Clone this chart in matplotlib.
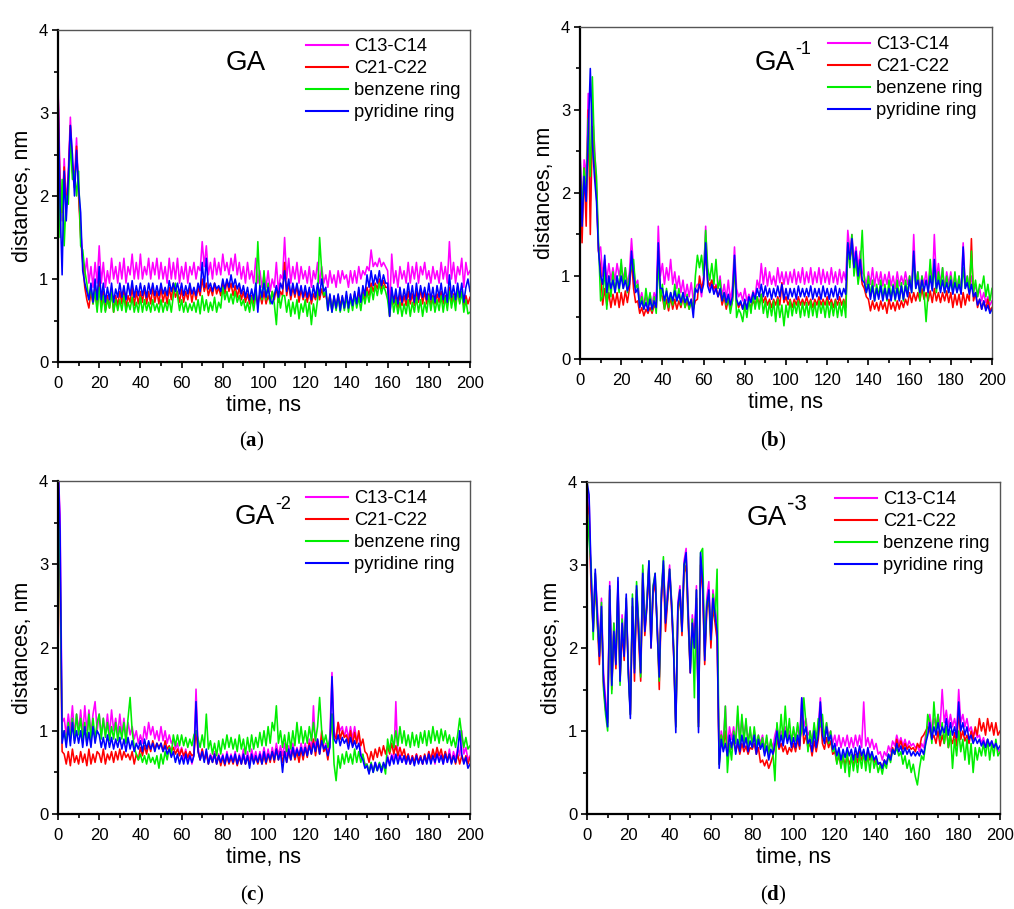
import matplotlib
matplotlib.use('Agg')
import matplotlib.pyplot as plt
from matplotlib.ticker import MultipleLocator

plt.rcParams['font.family'] = ['Liberation Sans', 'DejaVu Sans']
plt.rcParams['mathtext.fontset'] = 'custom'
plt.rcParams['mathtext.rm'] = 'Liberation Serif'
plt.rcParams['mathtext.bf'] = 'Liberation Serif:bold'

# sampling grid, ns (one value per ns, 0..200)
time_ns = list(range(0, 201))

series_names = ['C13-C14', 'C21-C22', 'benzene ring', 'pyridine ring']
series_colors = ['#FF00FF', '#FF0000', '#00EE00', '#0000FF']
panel_titles = ['GA', 'GA', 'GA', 'GA']
panel_sup = ['', '-1', '-2', '-3']
panel_captions = ['a', 'b', 'c', 'd']

# ---------------- panel (a) GA ----------------
a_c13 = [3.35,2.2,1.7,2.45,1.9,2.3,2.95,2.4,2.2,2.7,
 2.05,1.6,1.25,1.05,1.25,.95,1.15,.9,1.2,.95,
 1.4,.95,1.2,.9,1.1,.95,1.25,1.0,1.15,.95,
 1.2,1.0,1.25,.95,1.15,1.05,1.3,1.0,1.2,1.0,
 1.3,1.0,1.15,1.05,1.25,1.0,1.2,1.05,1.25,1.0,
 1.2,1.0,1.15,.95,1.25,1.0,1.2,1.0,1.25,.95,
 1.15,1.0,1.2,.95,1.15,1.05,1.2,1.0,1.15,1.1,
 1.45,1.15,1.4,1.05,1.2,1.0,1.25,1.05,1.2,1.05,
 1.3,1.1,1.2,1.05,1.25,1.1,1.3,1.05,1.2,1.0,
 1.15,.95,1.2,1.0,1.1,.95,1.25,.95,1.1,.9,
 1.05,.9,1.1,.85,1.0,.9,1.2,.85,1.05,1.0,
 1.5,1.0,1.25,.95,1.15,1.0,1.2,.95,1.15,1.0,
 1.1,.95,1.15,.9,1.1,1.0,1.2,.95,1.15,.95,
 1.05,.9,1.1,.95,1.05,.9,1.1,.95,1.1,1.0,
 1.05,.9,1.1,.95,1.1,.95,1.15,1.0,1.1,1.05,
 1.15,1.1,1.35,1.15,1.2,1.15,1.25,1.15,1.2,1.15,
 1.1,.65,1.3,.95,1.1,.9,1.15,1.0,1.1,.95,
 1.2,.95,1.15,1.0,1.2,.95,1.15,1.05,1.2,1.0,
 1.1,.95,1.15,1.0,1.1,.95,1.2,1.0,1.15,.95,
 1.45,1.0,1.2,.95,1.15,1.05,1.25,.9,1.2,1.05,
 1.1]
a_c21 = [3.3,2.0,1.8,2.35,1.85,2.2,2.85,2.3,2.1,2.6,
 2.0,1.5,1.2,.9,.75,.65,.85,.7,.9,.65,
 1.0,.7,.85,.62,.8,.65,.85,.6,.8,.68,
 .85,.7,.9,.65,.8,.72,.9,.68,.85,.7,
 .85,.72,.9,.7,.85,.7,.9,.72,.85,.7,
 .9,.72,.85,.7,.9,.75,.95,.78,.85,.72,
 .88,.72,.85,.75,.9,.72,.88,.75,.9,.8,
 1.0,.85,.95,.8,.9,.8,.95,.82,.9,.8,
 .95,.82,.98,.85,.95,.8,.92,.78,.9,.75,
 .85,.72,.82,.7,.8,.7,.85,.68,.82,.7,
 .85,.7,.8,.72,.85,.75,.9,.72,.85,.8,
 1.2,.8,.95,.75,.9,.78,.92,.72,.88,.75,
 .85,.72,.85,.7,.82,.75,.9,.75,.88,.78,
 .82,.68,.8,.62,.78,.65,.8,.68,.78,.65,
 .8,.65,.78,.7,.82,.7,.85,.72,.85,.75,
 .9,.8,.95,.85,.95,.88,1.0,.88,.98,.9,
 .9,.55,.85,.7,.8,.65,.82,.68,.8,.68,
 .85,.7,.82,.68,.85,.72,.88,.7,.85,.7,
 .82,.68,.8,.7,.82,.72,.85,.7,.8,.68,
 .9,.72,.82,.7,.85,.72,.85,.68,.8,.7,
 .78]
a_benz = [2.6,1.5,2.2,1.4,2.0,1.9,2.7,2.2,2.3,2.0,
 2.3,1.4,1.35,1.1,.95,.75,.9,.7,.85,.6,
 .9,.6,.8,.6,.75,.65,.85,.6,.75,.62,
 .75,.62,.8,.6,.72,.63,.78,.6,.72,.6,
 .78,.6,.75,.62,.72,.6,.75,.62,.7,.6,
 .75,.6,.72,.62,.75,.6,.8,.95,.8,.62,
 .75,.6,.72,.6,.7,.62,.72,.6,.75,.58,
 .8,.62,.75,.6,.72,.62,.78,.6,.72,.65,
 .9,.75,.85,.72,.82,.7,.85,.72,.8,.68,
 .75,.62,.72,.6,.78,.62,.8,1.45,.9,.75,
 1.1,.75,.95,.7,.85,.7,.45,.85,.65,.8,
 .8,.6,.75,.55,.72,.58,.75,.52,.7,.6,
 .75,.55,.72,.45,.7,.55,.75,1.5,1.1,.8,
 .85,.62,.8,.6,.78,.62,.8,.6,.78,.62,
 .8,.6,.78,.62,.8,.65,.78,.62,.82,.7,
 .85,.72,.9,.75,.92,.8,.95,.82,.92,.85,
 .75,.55,.8,.6,.75,.58,.72,.55,.7,.58,
 .75,.55,.72,.6,.78,.6,.75,.55,.72,.6,
 .8,.62,.78,.6,.75,.62,.8,.6,.78,.62,
 .85,.65,.8,.62,.9,.7,.85,.6,.75,.58,
 .6]
a_pyr = [3.3,1.9,1.05,2.3,1.7,2.2,2.85,2.5,2.0,2.55,
 2.1,1.8,1.1,.95,.85,.75,.95,.72,1.0,.75,
 1.15,.75,.95,.72,.9,.75,.95,.72,.88,.78,
 .95,.78,.92,.75,.95,.8,.98,.78,.92,.8,
 .95,.8,.92,.78,.95,.82,.95,.8,.92,.8,
 .95,.82,.9,.8,.98,.85,.95,.85,.95,.82,
 .95,.8,.92,.82,.95,.82,.9,.8,.95,.85,
 1.2,.9,1.25,.88,.95,.85,.95,.88,.92,.85,
 1.0,.88,1.0,.9,1.05,.9,1.0,.88,.95,.82,
 .92,.78,.9,.75,.88,.75,.95,.6,.92,.78,
 .95,.78,.9,.75,.7,.8,.92,.78,.95,.88,
 1.1,.85,1.0,.8,.95,.82,.95,.8,.92,.78,
 .92,.78,.9,.75,.92,.78,.95,.8,1.0,.85,
 .9,.62,.82,.6,.8,.65,.82,.62,.8,.65,
 .85,.65,.82,.68,.85,.7,.9,.72,.92,.8,
 1.05,.9,1.1,.92,1.05,.95,1.1,.92,1.05,.95,
 .95,.55,.9,.72,.88,.7,.9,.72,.88,.75,
 .95,.75,.92,.72,.95,.75,.92,.78,.9,.75,
 .95,.75,.9,.72,.92,.78,.95,.75,.9,.72,
 1.05,.78,.92,.75,.95,.78,.95,.72,.9,1.0,
 .85]

# ---------------- panel (b) GA-1 ----------------
b_c13 = [2.55,1.7,2.4,2.2,3.2,1.9,3.0,2.6,2.1,1.3,
 1.35,1.0,1.2,.95,1.15,.95,1.1,.95,1.15,1.0,
 1.15,.95,1.1,.9,1.05,1.45,1.1,.9,.95,.7,
 .8,.65,.75,.62,.78,.65,.8,.7,1.6,1.0,
 1.15,.9,1.1,.95,1.2,.9,1.05,.85,1.0,.8,
 .95,.75,.9,.75,.92,.7,.85,.9,.9,.75,
 1.0,1.6,.95,.85,.95,.8,.9,.85,1.0,.75,
 .9,.72,.95,.7,.88,1.35,.85,.75,.8,.7,
 .85,.7,.78,.7,.82,.75,.95,.85,1.15,.9,
 1.1,.88,1.05,.9,1.0,.88,1.1,.92,1.05,.9,
 1.05,.9,1.05,.92,1.08,.9,1.05,.92,1.1,.9,
 1.05,.92,1.1,.9,1.05,.92,1.1,.9,1.08,.92,
 1.05,.9,1.1,.92,1.05,.9,1.08,.92,1.05,.95,
 1.55,1.3,1.5,1.2,1.35,1.1,1.3,1.05,1.0,.9,
 1.05,.9,1.1,.88,1.05,.9,1.05,.88,1.02,.9,
 1.05,.88,1.0,.85,1.05,.88,1.0,.9,1.05,.9,
 1.0,.85,1.5,.9,1.05,.85,1.0,.9,1.05,.85,
 1.1,.85,1.5,.95,1.15,.9,1.1,.85,1.05,.9,
 1.05,.85,1.0,.85,1.0,.8,1.4,.9,1.0,.85,
 1.0,.8,.9,.75,.85,.7,.8,.68,.75,.65,
 .7]
b_c21 = [2.45,1.4,2.3,1.6,3.0,1.5,2.8,2.4,2.0,1.3,
 1.1,.65,.85,.65,.8,.62,.78,.65,.8,.62,
 .8,.65,.82,.68,.85,1.2,.85,.68,.7,.55,
 .62,.52,.6,.55,.62,.55,.65,.6,1.3,.8,
 .75,.6,.72,.58,.75,.6,.72,.6,.7,.62,
 .75,.62,.7,.6,.72,.6,.7,.72,1.0,.85,
 .95,1.3,.95,.88,.95,.85,.88,.75,.82,.65,
 .75,.6,.72,.6,.7,1.1,.7,.62,.68,.6,
 .7,.6,.68,.62,.7,.65,.75,.65,.78,.68,
 .75,.65,.72,.62,.72,.65,.75,.65,.92,.68,
 .75,.65,.72,.62,.72,.65,.75,.65,.72,.65,
 .75,.65,.72,.62,.72,.65,.75,.65,.72,.65,
 .75,.65,.72,.62,.72,.65,.75,.65,.72,.62,
 1.3,1.2,1.35,1.1,1.2,.95,1.1,.9,.85,.75,
 .72,.58,.7,.6,.68,.58,.7,.6,.68,.55,
 .72,.6,.68,.58,.7,.6,.7,.62,.72,.65,
 .8,.68,.8,.7,.8,.7,.85,.72,.8,.7,
 .82,.68,.85,.7,.8,.68,.8,.7,.82,.68,
 .8,.62,.78,.65,.78,.62,.8,.65,.78,.7,
 1.45,.7,.8,.62,.72,.6,.7,.6,.72,.58,
 .62]
b_benz = [2.2,1.8,2.3,2.0,2.9,2.2,3.4,2.5,2.2,1.4,
 .7,.75,1.1,.6,1.0,.75,1.05,.8,1.0,.8,
 1.2,.85,1.1,.8,1.0,1.1,1.2,.85,.9,.65,
 .75,.6,.85,.65,.8,.58,.75,.55,1.2,.7,
 .9,.6,.85,.62,.8,.65,.9,.7,.85,.65,
 .8,.62,.78,.6,.7,.6,1.0,1.25,1.1,1.25,
 1.0,1.55,1.1,.95,1.15,.9,1.2,.85,.95,.7,
 .8,.65,.75,.55,.7,1.2,.5,.6,.55,.45,
 .65,.5,.72,.55,.8,.6,.75,.6,.78,.55,
 .7,.5,.68,.52,.7,.45,.72,.5,.65,.4,
 .65,.5,.7,.52,.68,.55,.7,.5,.68,.52,
 .68,.5,.7,.52,.68,.5,.7,.55,.68,.5,
 .7,.5,.68,.52,.7,.5,.68,.52,.7,.5,
 1.4,1.1,1.5,1.0,1.2,.9,1.1,1.55,.95,.8,
 1.0,.75,.95,.7,.9,.75,.95,.72,.9,.7,
 .95,.72,.9,.7,.95,.72,.92,.7,.95,.78,
 1.0,.8,1.25,.85,1.05,.7,1.0,.8,.45,.8,
 1.2,.85,1.1,.8,1.05,.85,1.1,.8,1.0,.8,
 1.0,.8,1.05,.8,1.0,.8,1.1,.85,1.0,.8,
 1.3,.8,.95,.75,.9,.85,1.0,.75,.9,.7,
 .85]
b_pyr = [2.5,1.6,2.2,1.9,2.7,3.5,2.6,2.2,1.9,1.3,
 1.0,.9,1.25,.8,1.0,.85,.95,.8,1.0,.85,
 1.0,.85,.95,.82,.9,1.3,1.0,.8,.85,.62,
 .7,.6,.68,.58,.72,.6,.7,.62,1.4,.85,
 .85,.7,.82,.68,.8,.7,.82,.7,.78,.68,
 .8,.68,.75,.65,.72,.5,.85,.8,.9,.8,
 .9,1.4,.88,.8,.9,.78,.85,.75,.85,.7,
 .8,.68,.78,.65,.75,1.25,.72,.65,.7,.6,
 .72,.6,.75,.68,.8,.72,.85,.75,.9,.75,
 .88,.75,.85,.72,.85,.75,.88,.75,.9,.72,
 .85,.72,.85,.75,.85,.72,.88,.75,.85,.75,
 .85,.75,.88,.72,.85,.75,.85,.72,.88,.75,
 .85,.72,.85,.75,.88,.72,.85,.75,.85,.78,
 1.4,1.2,1.45,1.1,1.3,1.0,1.2,.95,.92,.8,
 .9,.72,.88,.7,.85,.72,.88,.7,.85,.72,
 .85,.7,.88,.72,.85,.7,.88,.72,.88,.75,
 .95,.8,1.3,.85,.95,.8,.95,.82,.95,.8,
 1.0,.82,1.2,.85,.95,.8,.95,.8,.92,.8,
 .95,.78,.92,.8,.9,.78,1.35,.85,.92,.78,
 .9,.75,.8,.65,.72,.6,.7,.58,.65,.55,
 .6]

# ---------------- panel (c) GA-2 ----------------
c_c13 = [4.2,3.6,1.1,1.15,.95,1.2,1.0,1.3,.95,1.2,
 1.0,1.25,.95,1.3,1.0,1.25,.95,1.2,1.35,1.0,
 1.2,.95,1.15,.95,1.2,.95,1.25,1.0,1.15,.95,
 1.2,.95,1.15,.9,1.1,.95,1.05,.9,1.0,.85,
 .95,.85,1.05,.9,1.1,.95,1.05,.9,1.0,.88,
 1.05,.88,1.0,.85,.95,.85,.9,.78,.85,.7,
 .8,.65,.78,.62,.75,.6,.72,1.5,.8,.65,
 .78,.65,.75,.62,.72,.65,.75,.62,.72,.62,
 .72,.6,.75,.62,.72,.62,.75,.6,.72,.62,
 .78,.6,.75,.62,.78,.65,.75,.62,.75,.65,
 .8,.65,.78,.65,.8,.68,.85,.7,.82,.7,
 .85,.7,.82,.7,.85,.72,.8,.7,.85,.72,
 .85,.72,.9,.75,1.3,.8,.9,.75,.92,.78,
 .85,.72,.95,1.7,1.0,.9,1.1,1.0,1.05,.92,
 1.05,.9,1.05,.9,1.05,.88,.95,.72,.7,.6,
 .6,.5,.6,.52,.62,.55,.6,.52,.58,.55,
 .7,.6,.72,.62,1.35,.65,.72,.62,.7,.6,
 .72,.6,.7,.6,.72,.62,.7,.6,.7,.62,
 .75,.62,.72,.6,.75,.65,.72,.6,.75,.62,
 .78,.62,.75,.65,.8,.7,1.0,.72,.8,.65,
 .7]
c_c21 = [3.6,2.8,.75,.72,.6,.75,.58,.78,.62,.7,
 .6,.75,.62,.72,.58,.78,.6,.72,.62,.75,
 .72,.62,.78,.6,.72,.65,.75,.62,.75,.65,
 .78,.65,.75,.68,.72,.65,.75,.6,.72,.65,
 .8,.7,.82,.72,.85,.75,.88,.78,.85,.8,
 .85,.75,.88,.78,.82,.75,.8,.72,.78,.7,
 .78,.7,.75,.68,.75,.7,.72,1.0,.75,.65,
 .78,.65,.72,.6,.7,.62,.72,.6,.7,.58,
 .68,.58,.7,.6,.68,.6,.7,.58,.68,.6,
 .7,.6,.68,.6,.7,.62,.68,.6,.7,.6,
 .7,.6,.72,.62,.75,.62,.78,.65,.75,.62,
 .75,.62,.75,.65,.78,.65,.75,.62,.78,.65,
 .8,.68,.85,.72,.9,.7,.88,.72,1.0,.75,
 .8,.65,.85,1.2,.95,.9,1.1,.9,1.0,.92,
 .95,.85,1.0,.82,.98,.85,1.0,.82,.9,.75,
 .72,.62,.75,.65,.78,.68,.8,.7,.82,.72,
 .82,.72,.85,.72,.82,.7,.8,.7,.78,.65,
 .72,.6,.7,.62,.72,.62,.7,.6,.72,.62,
 .75,.65,.78,.68,.8,.7,.78,.65,.75,.65,
 .72,.62,.7,.6,.72,.6,.7,.62,.7,.6,
 .68]
c_benz = [4.1,3.0,.9,1.0,.85,1.1,.9,1.15,.88,1.2,
 .95,1.15,.9,1.1,.85,1.2,.88,1.15,.9,1.1,
 1.2,.9,1.15,.92,1.1,.88,1.05,.9,1.1,.88,
 1.05,.9,1.1,.85,1.15,1.4,1.0,.8,.72,.65,
 .72,.62,.7,.6,.72,.62,.68,.6,.7,.55,
 .72,.6,.75,.65,.8,.72,.95,.82,.95,.82,
 .95,.82,.92,.8,.9,.82,.95,1.0,.9,.8,
 .95,.8,1.2,.78,.88,.72,.85,.7,.88,.72,
 .9,.78,.95,.8,.92,.78,.9,.75,.95,.78,
 .9,.72,.92,.75,.95,.78,.92,.8,.98,.82,
 1.0,.82,1.05,.85,1.1,1.0,1.3,.85,1.0,.8,
 .95,.75,.98,.78,1.0,.82,1.1,.85,1.05,.85,
 1.0,.85,1.05,.88,1.1,.88,1.05,1.4,1.0,.85,
 .95,.8,.9,1.2,.6,.4,.7,.55,.72,.6,
 .75,.62,.72,.6,.78,.62,.75,.62,.72,.58,
 .6,.5,.62,.5,.6,.52,.62,.55,.6,.48,
 .9,.75,.95,.8,1.0,.82,1.05,.85,1.0,.82,
 .95,.8,.98,.82,.95,.8,.98,.85,1.0,.82,
 1.0,.85,1.05,.88,1.0,.85,1.02,.88,1.0,.85,
 .95,.82,.92,.8,.95,1.15,.95,.8,.92,.78,
 .82]
c_pyr = [4.3,3.4,.85,1.0,.8,1.05,.82,1.1,.85,1.0,
 .85,1.0,.8,1.05,.82,.98,.8,1.05,.85,1.0,
 .95,.8,.92,.78,.95,.8,.92,.78,.9,.8,
 .92,.78,.9,.75,.92,.78,.88,.75,.85,.78,
 .88,.75,.9,.78,.88,.78,.85,.75,.85,.78,
 .85,.75,.82,.72,.78,.68,.75,.62,.72,.6,
 .7,.6,.72,.6,.7,.62,.7,1.35,.75,.65,
 .75,.62,.78,.6,.7,.62,.72,.6,.7,.62,
 .7,.6,.72,.62,.7,.62,.72,.6,.7,.6,
 .72,.6,.7,.55,.72,.6,.7,.62,.72,.6,
 .75,.62,.72,.65,.75,.65,.78,.65,.75,.5,
 .75,.62,.78,.65,.8,.68,.78,.7,.8,.7,
 .8,.7,.82,.72,.85,.75,.9,.72,.88,.78,
 .82,.7,.8,1.65,.9,.85,.95,.82,.92,.85,
 .9,.78,.92,.8,.88,.78,.85,.7,.65,.55,
 .58,.48,.6,.5,.62,.52,.6,.5,.62,.55,
 .68,.58,.7,.6,.72,.6,.7,.62,.7,.6,
 .7,.6,.68,.58,.7,.6,.68,.6,.7,.6,
 .72,.6,.7,.62,.72,.62,.7,.6,.72,.62,
 .72,.6,.7,.62,.75,1.0,.72,.6,.68,.55,
 .6]

# ---------------- panel (d) GA-3 ----------------
d_c13 = [3.9,3.8,2.8,2.3,2.9,2.5,2.0,2.6,1.7,1.4,
 1.15,2.8,1.6,2.3,1.9,2.8,1.7,2.4,2.0,2.6,
 1.8,1.25,2.5,1.8,2.7,2.3,1.8,2.95,2.25,2.6,
 3.0,2.1,2.75,2.85,2.3,1.75,2.7,3.0,2.4,2.7,
 3.0,2.55,2.0,1.1,2.55,2.75,2.3,3.05,3.2,2.5,
 1.8,2.4,2.1,2.75,1.1,3.1,2.85,1.95,2.6,2.8,
 2.2,2.7,2.5,2.3,.7,1.0,.85,1.3,.8,1.05,
 .9,1.05,.85,1.2,.9,1.15,.95,1.1,.9,1.0,
 .85,1.0,.8,.95,.85,.95,.78,.92,.75,.88,
 .8,.95,1.05,.9,1.0,.9,1.05,.92,1.0,.88,
 1.0,.9,1.05,.92,1.4,1.05,1.15,.95,1.0,.85,
 1.05,.9,1.05,1.4,1.0,.92,1.1,.95,1.0,.85,
 .95,.82,.95,.8,.92,.82,.95,.8,.92,.8,
 .95,.82,.95,.8,1.35,.82,.92,.8,.9,.78,
 .85,.72,.75,.65,.75,.7,.82,.75,.88,.82,
 .95,.85,.92,.82,.9,.8,.88,.82,.85,.8,
 .82,.75,.85,.8,.95,1.05,1.2,1.0,1.15,1.05,
 1.2,1.05,1.5,1.1,1.25,1.05,1.2,1.05,1.15,1.0,
 1.5,1.1,1.2,1.05,1.15,1.0,1.05,.95,1.0,.92,
 .95,.85,.92,.82,.9,.82,.88,.8,.85,.75,
 .78]
d_c21 = [3.8,3.6,2.7,2.2,2.8,2.3,1.8,2.4,1.55,1.25,
 1.1,2.7,1.5,2.2,1.75,2.7,1.6,2.2,1.85,2.5,
 1.75,1.2,2.5,1.6,2.7,2.1,1.6,2.85,2.15,2.5,
 2.95,2.0,2.65,2.8,2.25,1.5,2.55,2.95,2.2,2.55,
 2.9,2.45,1.9,1.05,2.4,2.65,2.15,2.9,3.0,2.3,
 1.7,2.3,2.0,2.6,1.05,3.0,2.7,1.8,2.45,2.6,
 2.0,2.5,2.3,2.1,.6,.95,.8,1.0,.7,.85,
 .78,.9,.75,.85,.72,.85,.75,.82,.72,.8,
 .78,.85,.72,.8,.62,.65,.58,.65,.55,.62,
 .7,.82,.9,.78,.85,.75,.82,.72,.8,.75,
 .85,.75,.9,.78,1.2,.85,.95,.8,.85,.7,
 .88,.75,.9,1.2,.85,.78,.92,.8,.88,.72,
 .75,.62,.7,.58,.68,.6,.7,.6,.68,.58,
 .72,.62,.75,.65,.72,.6,.75,.65,.7,.62,
 .68,.6,.62,.55,.65,.6,.7,.68,.8,.72,
 .9,.8,.88,.78,.85,.78,.82,.78,.8,.75,
 .85,.8,.92,.95,1.0,1.05,1.0,.9,.95,.85,
 1.0,.82,.95,.85,1.05,.8,.92,.85,.98,.82,
 1.25,.9,1.0,.88,.95,.85,1.0,.9,1.05,.95,
 1.15,1.0,1.1,.95,1.15,1.0,1.1,.95,1.1,.95,
 1.0]
d_benz = [3.7,3.3,3.0,2.1,2.9,2.3,1.95,2.55,1.5,1.2,
 1.0,2.7,1.45,2.3,1.85,2.75,1.55,2.35,1.95,2.6,
 1.7,1.2,2.65,1.75,2.8,2.3,1.65,3.0,2.25,2.55,
 3.05,2.05,2.75,2.9,2.25,1.6,2.65,3.1,2.35,2.6,
 2.95,2.55,2.0,1.05,2.45,2.7,2.2,3.0,3.1,2.4,
 1.75,2.35,1.4,2.7,1.05,3.15,3.2,1.9,2.55,2.65,
 2.1,2.65,2.35,2.95,.6,.95,.8,1.3,.5,.85,
 .65,1.0,.85,1.3,.8,1.2,.85,1.15,.8,1.05,
 .8,1.05,.82,.95,.8,.92,.75,.95,.72,.9,
 .75,.4,1.1,.85,1.2,.88,1.3,.9,1.15,.85,
 1.05,.88,1.1,.9,1.0,1.4,1.1,.75,1.0,.85,
 1.1,.88,1.15,1.05,1.2,.9,1.1,.85,1.0,.75,
 .8,.6,.75,.55,.72,.5,.75,.45,.72,.52,
 .7,.5,.72,.55,.75,.52,.72,.5,.75,.55,
 .65,.5,.6,.48,.62,.55,.72,.62,.78,.72,
 .8,.7,.75,.6,.7,.55,.65,.5,.6,.45,
 .35,.55,.7,.65,.85,1.2,1.1,.85,1.35,1.0,
 1.2,.9,1.1,.85,1.05,.8,1.0,.55,.9,.7,
 1.0,.75,.9,.65,.9,.6,.85,.5,.8,.65,
 .8,.7,.85,.7,.9,.65,.85,.7,.9,.7,
 .75]
d_pyr = [4.0,3.85,2.9,2.2,2.95,2.4,1.9,2.5,1.6,1.3,
 1.05,2.75,1.55,2.2,1.8,2.85,1.6,2.3,1.9,2.65,
 1.7,1.15,2.6,1.7,2.75,2.2,1.7,2.9,2.2,2.5,
 3.05,2.0,2.7,2.9,2.2,1.65,2.6,3.05,2.3,2.6,
 2.95,2.5,1.9,.98,2.5,2.7,2.2,3.0,3.15,2.4,
 1.7,2.3,2.0,2.7,.98,3.15,2.8,1.85,2.5,2.7,
 2.1,2.6,2.4,2.2,.55,.9,.75,.85,.7,.95,
 .8,.95,.72,.9,.75,.95,.8,.92,.75,.88,
 .8,.95,.72,.9,.78,.85,.7,.82,.65,.78,
 .72,.85,1.0,.8,.95,.82,1.0,.85,.95,.8,
 .92,.8,.95,.82,1.4,.95,1.05,.85,.9,.75,
 1.0,.8,.95,1.35,.95,.85,1.05,.88,.95,.78,
 .85,.7,.8,.65,.78,.68,.8,.7,.78,.65,
 .8,.68,.82,.7,.78,.65,.8,.68,.75,.65,
 .7,.6,.62,.55,.65,.6,.72,.65,.78,.72,
 .85,.75,.82,.72,.8,.72,.78,.7,.75,.7,
 .75,.7,.78,.72,.85,.95,1.1,.9,1.05,.95,
 1.1,.95,1.05,.98,1.15,.95,1.1,.95,1.05,.92,
 1.35,1.0,1.1,.95,1.05,.9,.95,.85,.92,.85,
 .9,.82,.88,.8,.9,.82,.88,.8,.85,.78,
 .82]

panel_data = [
    [a_c13, a_c21, a_benz, a_pyr],
    [b_c13, b_c21, b_benz, b_pyr],
    [c_c13, c_c21, c_benz, c_pyr],
    [d_c13, d_c21, d_benz, d_pyr],
]

W, H = 1014, 909
fig = plt.figure(figsize=(W / 100, H / 100), dpi=100)
fig.patch.set_facecolor('white')

def fx(px):
    return px / W

def fy(py):
    return 1 - py / H

# axes boxes in pixels: left, top, right, bottom
ax_boxes = [(58, 30, 470, 362), (580, 27, 992, 359),
            (58, 481, 470, 814), (587, 482, 1000, 814)]
# title "GA" left x, centre y; legend line start x, first row y
title_pos = [(226, 63), (755, 63), (235, 517), (747, 518)]
legend_pos = [(306, 49), (828, 47), (306, 501), (835, 502)]
caption_pos = [(252, 441), (773, 441), (252, 895), (773, 895)]

for i, (l, t, r, b) in enumerate(ax_boxes):
    ax = fig.add_axes([fx(l), fy(b), (r - l) / W, (b - t) / H])
    for name, color, vals in zip(series_names, series_colors, panel_data[i]):
        ax.plot(time_ns, vals, color=color, lw=1.15, label=name)
    ax.set_xlim(0, 200)
    ax.set_ylim(0, 4)
    ax.xaxis.set_major_locator(MultipleLocator(20))
    ax.xaxis.set_minor_locator(MultipleLocator(10))
    ax.yaxis.set_major_locator(MultipleLocator(1))
    ax.yaxis.set_minor_locator(MultipleLocator(0.5))
    ax.tick_params(which='both', direction='out', width=1.2, colors='black',
                   top=False, right=False)
    ax.tick_params(which='major', length=4, labelsize=12)
    ax.tick_params(axis='x', which='major', pad=6)
    ax.tick_params(axis='y', which='major', pad=3)
    ax.tick_params(which='minor', length=3)
    for s in ('left', 'bottom'):
        ax.spines[s].set_linewidth(1.6)
        ax.spines[s].set_color('black')
    for s in ('top', 'right'):
        ax.spines[s].set_linewidth(1.0)
        ax.spines[s].set_color('#555555')
    ax.set_xlabel('time, ns', fontsize=15.5, labelpad=3)
    ax.set_ylabel('distances, nm', fontsize=15.5, labelpad=4)

    # legend
    lx, ly = legend_pos[i]
    leg = ax.legend(loc='upper left', bbox_to_anchor=(fx(lx), fy(ly - 11)),
                    bbox_transform=fig.transFigure, frameon=False, fontsize=13.2,
                    handlelength=2.3, handletextpad=0.3, labelspacing=0.28,
                    borderpad=0, borderaxespad=0)
    for hl in leg.get_lines():
        hl.set_linewidth(1.5)

    # title
    tx, ty = title_pos[i]
    fig.text(fx(tx), fy(ty), panel_titles[i], fontsize=20,
             ha='left', va='center')
    if panel_sup[i]:
        gx = tx + 40
        fs = 13 if i < 3 else 16
        fig.text(fx(gx), fy(ty - 13), panel_sup[i], fontsize=fs,
                 ha='left', va='center')

    cx, cy = caption_pos[i]
    fig.text(fx(cx), fy(cy), r'$(\mathbf{' + panel_captions[i] + r'})$',
             fontsize=15, ha='center', va='center')

fig.savefig('out.png', dpi=100, facecolor='white')
